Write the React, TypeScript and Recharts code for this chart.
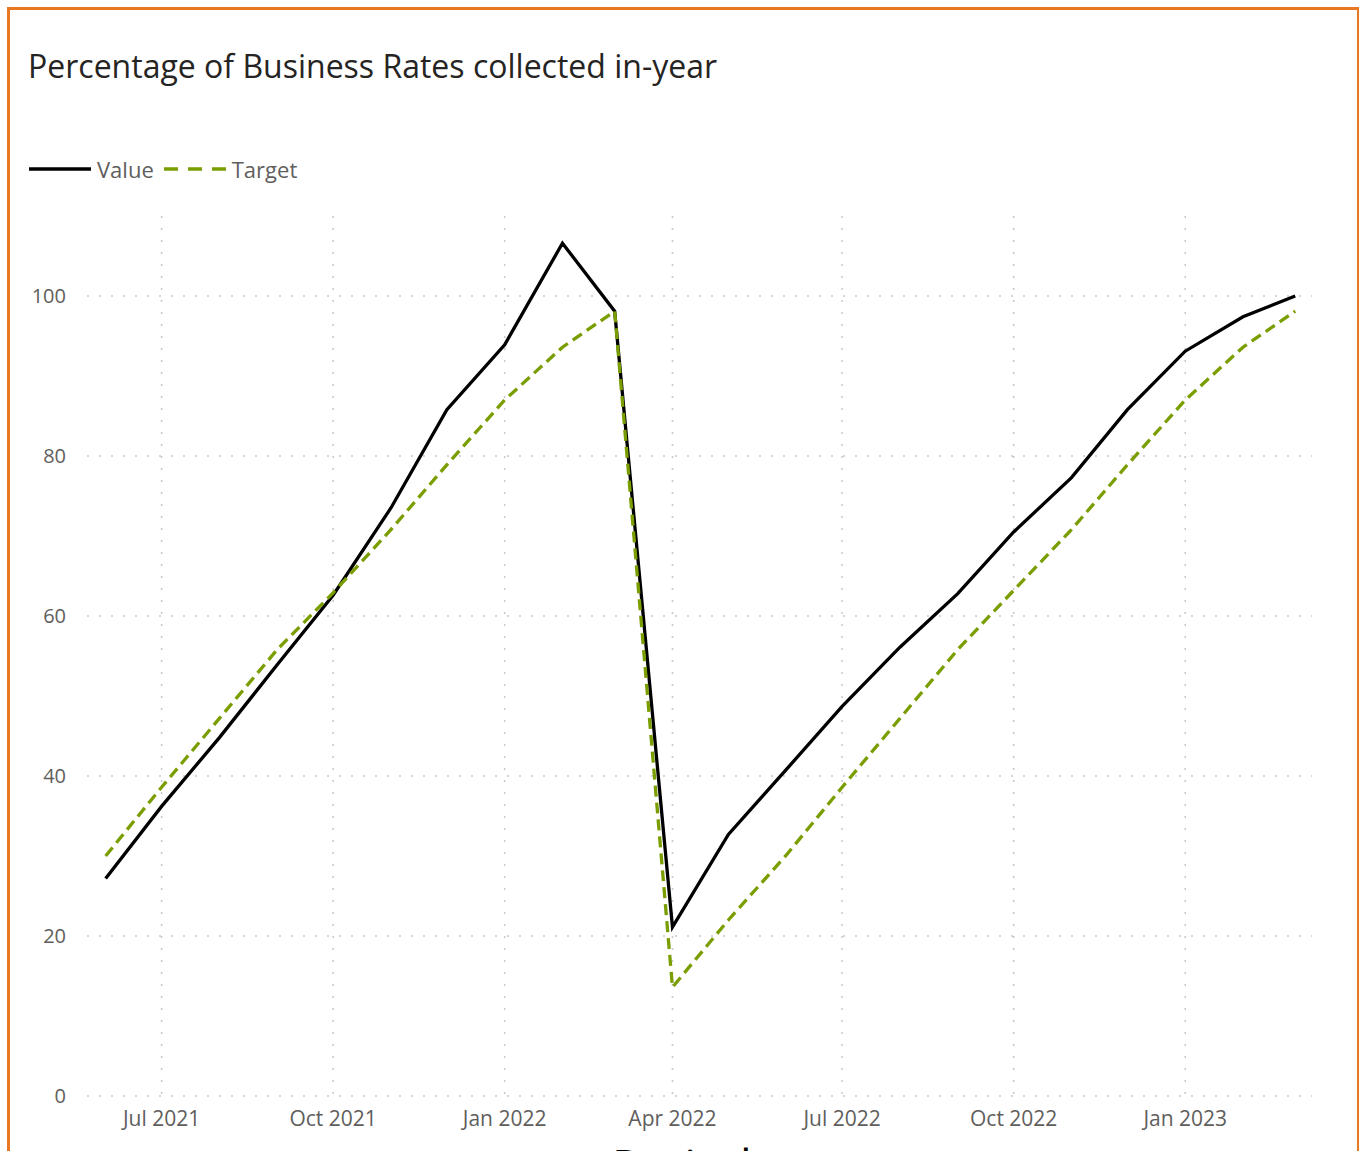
import { CartesianGrid, Line, LineChart, XAxis, YAxis } from "recharts";

const months = [
  "2021-06", "2021-07", "2021-08", "2021-09", "2021-10", "2021-11", "2021-12",
  "2022-01", "2022-02", "2022-03", "2022-04", "2022-05", "2022-06", "2022-07",
  "2022-08", "2022-09", "2022-10", "2022-11", "2022-12", "2023-01", "2023-02", "2023-03",
];
const valueSeries = [
  27.2, 36.2, 44.8, 53.9, 62.6, 73.5, 85.8, 93.9, 106.6, 98.1,
  21.1, 32.7, 40.8, 48.7, 56.1, 62.8, 70.5, 77.3, 85.8, 93.1, 97.4, 100,
];
const targetSeries = [
  30.0, 38.6, 47.2, 55.8, 62.9, 70.8, 78.9, 87.0, 93.6, 98.1,
  13.6, 22.0, 30.1, 38.6, 47.2, 55.8, 63.2, 70.8, 78.9, 87.0, 93.6, 98.1,
];
const xTicks = ["2021-07", "2021-10", "2022-01", "2022-04", "2022-07", "2022-10", "2023-01"];
const yTicks = [0, 20, 40, 60, 80, 100];
const monthNames = ["Jan", "Feb", "Mar", "Apr", "May", "Jun", "Jul", "Aug", "Sep", "Oct", "Nov", "Dec"];

const toTime = (ym: string) => {
  const [y, m] = ym.split("-").map(Number);
  return Date.UTC(y, m - 1, 1);
};

const xDomain = [Date.UTC(2021, 4, 22), Date.UTC(2023, 2, 10)];
const yDomain = [0, 110];

const data = months.map((m, i) => ({
  date: toTime(m),
  value: valueSeries[i],
  target: targetSeries[i],
}));

const fmtTick = (t: number) => {
  const d = new Date(t);
  return `${monthNames[d.getUTCMonth()]} ${d.getUTCFullYear()}`;
};

const FONT = "'Open Sans', 'Noto Sans', sans-serif";
const GREEN = "#7a9d00";

// grid only at the tick positions (no lines on the plot border)
const vGrid = ({ offset }: any) =>
  xTicks.map((t) => offset.left + ((toTime(t) - xDomain[0]) / (xDomain[1] - xDomain[0])) * offset.width);
const hGrid = ({ offset }: any) =>
  yTicks.map((v) => offset.top + offset.height - ((v - yDomain[0]) / (yDomain[1] - yDomain[0])) * offset.height);

export default function App() {
  return (
    <div style={{ position: "absolute", left: 0, top: 0, width: 1359, height: 1151, overflow: "hidden", fontFamily: FONT }}>
      <div
        style={{
          position: "absolute",
          left: 7,
          top: 7,
          width: 1347,
          height: 1200,
          borderLeft: "3px solid #e87722",
          borderTop: "3px solid #e87722",
          borderRight: "2px solid #e87722",
        }}
      />
      <div style={{ position: "absolute", left: 28, top: 44, fontSize: 32, color: "#252423", whiteSpace: "nowrap" }}>
        Percentage of Business Rates collected in-year
      </div>
      <div style={{ position: "absolute", left: 29, top: 154, display: "flex", alignItems: "center", fontSize: 22, color: "#605e5c" }}>
        <svg width={62} height={6}>
          <line x1={0} y1={3} x2={62} y2={3} stroke="#000" strokeWidth={3.3} />
        </svg>
        <span style={{ marginLeft: 6, marginRight: 10 }}>Value</span>
        <svg width={62} height={6}>
          <line x1={0} y1={3} x2={62} y2={3} stroke={GREEN} strokeWidth={3.3} strokeDasharray="14 10" />
        </svg>
        <span style={{ marginLeft: 6 }}>Target</span>
      </div>
      <div style={{ position: "absolute", left: 0, top: 0 }}>
        <LineChart width={1359} height={1151} data={data} margin={{ top: 216, right: 47, bottom: 25, left: 27 }}>
          <CartesianGrid
            stroke="#c8c8c8"
            strokeDasharray="2 10"
            strokeWidth={1.5}
            verticalCoordinatesGenerator={vGrid}
            horizontalCoordinatesGenerator={hGrid}
          />
          <XAxis
            dataKey="date"
            type="number"
            scale="time"
            domain={xDomain}
            ticks={xTicks.map(toTime)}
            tickFormatter={fmtTick}
            height={30}
            axisLine={false}
            tickLine={false}
            tickMargin={9}
            tick={{ fill: "#605e5c", fontSize: 21, fontFamily: FONT }}
          />
          <YAxis
            type="number"
            domain={yDomain}
            ticks={yTicks}
            width={60}
            axisLine={false}
            tickLine={false}
            tickMargin={15}
            tick={{ fill: "#605e5c", fontSize: 20, fontFamily: FONT }}
          />
          <Line type="linear" dataKey="value" stroke="#000" strokeWidth={3.3} dot={false} isAnimationActive={false} />
          <Line
            type="linear"
            dataKey="target"
            stroke={GREEN}
            strokeWidth={3.3}
            strokeDasharray="11 6"
            dot={false}
            isAnimationActive={false}
          />
        </LineChart>
      </div>
      <div style={{ position: "absolute", left: 612, top: 1134, fontSize: 46, color: "#000", whiteSpace: "nowrap" }}>
        Period
      </div>
    </div>
  );
}
